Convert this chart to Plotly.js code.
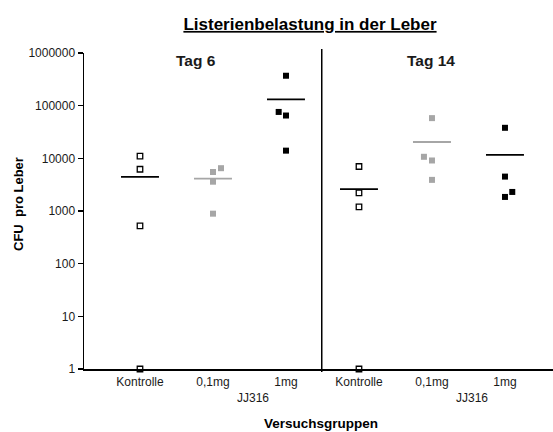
<!DOCTYPE html>
<html>
<head>
<meta charset="utf-8">
<script src="https://cdn.plot.ly/plotly-3.0.1.min.js"></script>
<style>
  html, body { margin: 0; padding: 0; background: #fff; }
  #chart { width: 553px; height: 432px; }
</style>
</head>
<body>
<div id="chart"></div>
<script>
// Listeria load (CFU per liver) on day 6 and day 14 after infection
const groups = ['Kontrolle', '0,1mg', '1mg'];
const yTickVals = [1, 10, 100, 1000, 10000, 100000, 1000000];
const yTickText = ['1', '10', '100', '1000', '10000', '100000', '1000000'];

// Tag 6
const tag6Kontrolle = [11000, 6200, 520, 1];
const tag6Dose01 = [5500, 6500, 3600, 890];
const tag6Dose1 = [370000, 76000, 65000, 14000];

// Tag 14
const tag14Kontrolle = [7000, 2200, 1200, 1];
const tag14Dose01 = [58000, 10700, 9100, 3900];
const tag14Dose1 = [38000, 4500, 2300, 1850];

// horizontal spread of overlapping points (in category widths)
const spreadTag6Kontrolle = [0, 0, 0, 0];
const spreadTag6Dose01 = [0, 0.11, 0, 0];
const spreadTag6Dose1 = [0, -0.1, 0, 0];
const spreadTag14Kontrolle = [0, 0, 0, 0];
const spreadTag14Dose01 = [0, -0.11, 0, 0];
const spreadTag14Dose1 = [0, 0, 0.1, 0];

const FONT = 'Liberation Sans, Arial, Helvetica, sans-serif';
const GRAY = '#a6a6a6';

const styles = [
  { symbol: 'square-open', color: '#000000', line: '#000000', size: 5.5 },
  { symbol: 'square', color: GRAY, line: GRAY, size: 6 },
  { symbol: 'square', color: '#000000', line: '#000000', size: 6 }
];

const series = [
  { pos: 1, vals: tag6Kontrolle, spread: spreadTag6Kontrolle, s: 0 },
  { pos: 2, vals: tag6Dose01, spread: spreadTag6Dose01, s: 1 },
  { pos: 3, vals: tag6Dose1, spread: spreadTag6Dose1, s: 2 },
  { pos: 4, vals: tag14Kontrolle, spread: spreadTag14Kontrolle, s: 0 },
  { pos: 5, vals: tag14Dose01, spread: spreadTag14Dose01, s: 1 },
  { pos: 6, vals: tag14Dose1, spread: spreadTag14Dose1, s: 2 }
];

const mean = a => a.reduce((p, c) => p + c, 0) / a.length;

const traces = [];
series.forEach(g => {
  const st = styles[g.s];
  const m = mean(g.vals);
  // group mean bar
  traces.push({
    type: 'scatter', mode: 'lines',
    x: [g.pos - 0.26, g.pos + 0.26], y: [m, m],
    line: { color: st.line, width: 1.8 },
    hoverinfo: 'skip', showlegend: false, cliponaxis: false
  });
  // individual animals
  traces.push({
    type: 'scatter', mode: 'markers',
    x: g.vals.map((v, i) => g.pos + g.spread[i]), y: g.vals,
    marker: {
      symbol: st.symbol, size: st.size, color: st.color,
      line: { color: st.line, width: st.symbol === 'square-open' ? 1.3 : 0 }
    },
    showlegend: false, cliponaxis: false
  });
});

// pixel helpers for the text placement (plot area: x 84..553, y 53..369)
const PX0 = 84, PY0 = 53, PY1 = 369, PH = PY1 - PY0, PW = 553 - PX0;
const py = y => (PY1 - y) / PH;
const pxp = x => (x - PX0) / PW;

const layout = {
  width: 553, height: 432,
  margin: { l: PX0, r: 0, t: PY0, b: 432 - PY1, pad: 0 },
  paper_bgcolor: '#ffffff', plot_bgcolor: '#ffffff',
  font: { family: FONT, color: '#000000', size: 12 },
  showlegend: false,
  title: {
    text: '<b><u>Listerienbelastung in der Leber</u></b>',
    font: { family: FONT, size: 17, color: '#000000' },
    x: 310 / 553, xanchor: 'center', xref: 'container',
    y: 1 - 24 / 432, yanchor: 'middle', yref: 'container'
  },
  xaxis: {
    range: [0.233, 6.658],
    showgrid: false, zeroline: false,
    showline: true, linecolor: '#000000', linewidth: 1.5,
    tickvals: [1, 2, 3, 4, 5, 6],
    ticktext: groups.concat(groups),
    ticks: 'outside', ticklen: 1, tickcolor: 'rgba(0,0,0,0)',
    tickfont: { family: FONT, size: 12, color: '#1a1a1a' },
    fixedrange: true
  },
  yaxis: {
    type: 'log', range: [0, 6],
    showgrid: false, zeroline: false,
    showline: true, linecolor: '#000000', linewidth: 1.5,
    tickvals: yTickVals, ticktext: yTickText,
    ticks: 'outside', ticklen: 5, tickwidth: 1.2, tickcolor: '#000000',
    tickfont: { family: FONT, size: 12, color: '#1a1a1a' },
    fixedrange: true
  },
  shapes: [
    {
      type: 'line', xref: 'x', yref: 'paper',
      x0: 3.49, x1: 3.49, y0: py(372), y1: py(49),
      line: { color: '#000000', width: 1.5 }
    }
  ],
  annotations: [
    { text: '<b>Tag 6</b>', xref: 'x', yref: 'paper', x: 1.77, y: py(60),
      xanchor: 'center', yanchor: 'middle', showarrow: false,
      font: { family: FONT, size: 15.5, color: '#1a1a1a' } },
    { text: '<b>Tag 14</b>', xref: 'x', yref: 'paper', x: 4.99, y: py(60),
      xanchor: 'center', yanchor: 'middle', showarrow: false,
      font: { family: FONT, size: 15.5, color: '#1a1a1a' } },
    { text: 'JJ316', xref: 'x', yref: 'paper', x: 2.55, y: py(398),
      xanchor: 'center', yanchor: 'middle', showarrow: false,
      font: { family: FONT, size: 12, color: '#1a1a1a' } },
    { text: 'JJ316', xref: 'x', yref: 'paper', x: 5.55, y: py(398),
      xanchor: 'center', yanchor: 'middle', showarrow: false,
      font: { family: FONT, size: 12, color: '#1a1a1a' } },
    { text: '<b>Versuchsgruppen</b>', xref: 'paper', yref: 'paper', x: pxp(321), y: py(423),
      xanchor: 'center', yanchor: 'middle', showarrow: false,
      font: { family: FONT, size: 13.5, color: '#000000' } },
    { text: '<b>CFU  pro Leber</b>', xref: 'paper', yref: 'paper', x: pxp(18), y: py(204),
      xanchor: 'center', yanchor: 'middle', textangle: -90, showarrow: false,
      font: { family: FONT, size: 13, color: '#000000' } }
  ]
};

Plotly.newPlot('chart', traces, layout, { staticPlot: true, displayModeBar: false });
</script>
</body>
</html>
